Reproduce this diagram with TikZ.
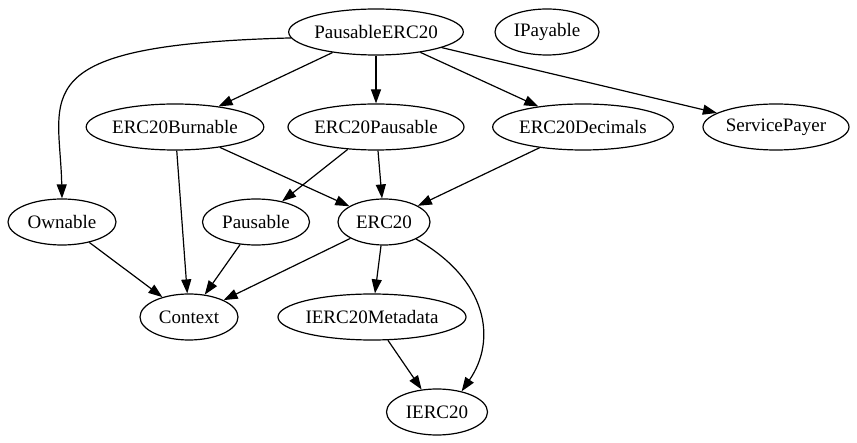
\documentclass[tikz,border=0pt]{standalone}
\usepackage{fontspec}
\setmainfont{Liberation Serif}
\usetikzlibrary{arrows.meta,shapes.geometric}

\begin{document}
\begin{tikzpicture}[x=1pt,y=1pt,>={Triangle[length=14pt,width=10pt]},
  contract/.style={draw,ellipse,line width=1.2pt,minimum height=46pt,inner sep=0pt,font=\fontsize{19}{23}\selectfont},
  dep/.style={->,line width=1.2pt}]
\useasboundingbox (0,0) rectangle (857,-443);
\node[contract,minimum width=174pt] (c_perc) at (376,-32) {PausableERC20};
\node[contract,minimum width=104pt] (c_ipay) at (547,-32) {IPayable};
\node[contract,minimum width=177pt] (c_burn) at (175,-127) {ERC20Burnable};
\node[contract,minimum width=176pt] (c_epaus) at (376,-127) {ERC20Pausable};
\node[contract,minimum width=179pt] (c_dec) at (583,-127) {ERC20Decimals};
\node[contract,minimum width=146pt] (c_spay) at (776,-127) {ServicePayer};
\node[contract,minimum width=108pt] (c_own) at (62,-222) {Ownable};
\node[contract,minimum width=107pt] (c_paus) at (256,-222) {Pausable};
\node[contract,minimum width=92pt] (c_erc) at (384,-222) {ERC20};
\node[contract,minimum width=98pt] (c_ctx) at (189,-317) {Context};
\node[contract,minimum width=187pt] (c_meta) at (372,-317) {IERC20Metadata};
\node[contract,minimum width=101pt] (c_ierc) at (437,-412) {IERC20};
% inheritance edges
\draw[dep] (c_perc.184) .. controls (20,-45) and (60,-95) .. (c_own.north);
\draw[dep] (c_perc) -- (c_burn);
\draw[dep] (c_perc) -- (c_epaus);
\draw[dep] (c_perc) -- (c_dec);
\draw[dep] (c_perc) -- (c_spay);
\draw[dep] (c_burn) -- (c_ctx);
\draw[dep] (c_burn) -- (c_erc);
\draw[dep] (c_epaus) -- (c_paus);
\draw[dep] (c_epaus) -- (c_erc);
\draw[dep] (c_dec) -- (c_erc);
\draw[dep] (c_own) -- (c_ctx);
\draw[dep] (c_paus) -- (c_ctx);
\draw[dep] (c_erc) -- (c_ctx);
\draw[dep] (c_erc) -- (c_meta);
\draw[dep] (c_erc.-28) .. controls (488,-280) and (497,-340) .. (c_ierc.40);
\draw[dep] (c_meta) -- (c_ierc);
\end{tikzpicture}
\end{document}
